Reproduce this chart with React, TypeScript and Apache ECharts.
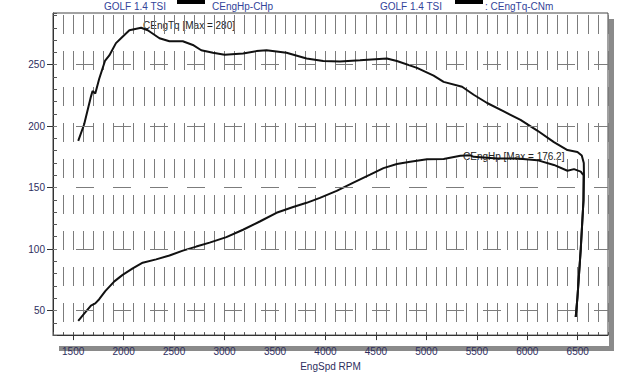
import React, { useEffect, useRef } from 'react';
import * as echarts from 'echarts';

// Torque curve (EngSpd RPM, CEngTq Nm)
const tqRpm = [1550, 1609, 1676, 1692, 1719, 1758, 1815, 1858, 1924, 1974, 2057, 2173, 2239, 2355, 2454, 2586, 2686, 2769, 2885, 3001, 3183, 3316, 3416, 3614, 3813, 3978, 4144, 4343, 4608, 4708, 4907, 5072, 5171, 5354, 5469, 5602, 5767, 5933, 6099, 6264, 6398, 6497, 6540, 6560, 6562, 6557, 6530, 6497, 6480];
const tqVal = [188, 201.5, 224, 228.5, 226.5, 238.5, 253, 257.5, 267.5, 271.5, 278, 280, 278, 271.5, 269, 269, 266, 261.7, 259.7, 258, 259, 261, 261.7, 259.7, 255, 253, 252.5, 253.5, 255, 253, 247.4, 241, 236, 232, 225.5, 218.8, 212, 205, 196.4, 187, 180.5, 179, 176, 170, 160, 139.5, 100, 60.5, 44.7];

// Power curve (EngSpd RPM, CEngHp hp)
const hpRpm = [1550, 1609, 1676, 1719, 1758, 1818, 1908, 1990, 2090, 2189, 2322, 2454, 2587, 2720, 2852, 3018, 3183, 3349, 3515, 3680, 3813, 3945, 4111, 4277, 4442, 4575, 4708, 4840, 5006, 5171, 5337, 5436, 5469, 5702, 5900, 6099, 6264, 6398, 6463, 6530, 6558, 6557, 6530, 6497, 6480];
const hpVal = [41.6, 47.4, 54, 55.8, 59.2, 65.8, 73.7, 79, 84.2, 88.9, 91.6, 94.7, 98.7, 102, 105.2, 109.7, 115.7, 122.4, 129.5, 134.2, 137.6, 141.6, 147.3, 154, 160.5, 165.8, 169.2, 171, 173, 173.2, 175.8, 176.2, 175, 173.7, 173.7, 172.3, 168.4, 163.7, 165, 163, 160, 139.5, 100, 60.5, 44.7];

const xLabelValues = [1500, 2000, 2500, 3000, 3500, 4000, 4500, 5000, 5500, 6000, 6500];
const yLabelValues = [50, 100, 150, 200, 250];
const headerTexts = ['GOLF 1.4 TSI', 'CEngHp-CHp', 'GOLF 1.4 TSI', ': CEngTq-CNm'];
const tqNote = 'CEngTq [Max = 280]';
const hpNote = 'CEngHp [Max = 176.2]';

export default function App() {
  const ref = useRef<HTMLDivElement>(null);
  useEffect(() => {
    if (!ref.current) return;
    const chart = echarts.init(ref.current, null, { renderer: 'svg' });
    const font = '"Liberation Sans", Arial, sans-serif';
    const gridColor = '#7c7c7c';
    const labelColor = '#2e2e5e';
    const titleColor = '#33449a';
    const tqData = tqRpm.map((r, i) => [r, tqVal[i]]);
    const hpData = hpRpm.map((r, i) => [r, hpVal[i]]);

    chart.setOption({
      animation: false,
      backgroundColor: '#ffffff',
      grid: {
        left: 53, top: 13, right: 32, bottom: 31,
        show: true, borderColor: '#444', borderWidth: 1, backgroundColor: 'transparent'
      },
      xAxis: [
        {
          type: 'value', min: 1300, max: 6800, interval: 100, position: 'bottom',
          axisLine: { show: true, lineStyle: { color: '#333', width: 1 } },
          axisTick: { show: true, inside: true, length: 3, lineStyle: { color: '#555' } },
          axisLabel: {
            show: true, margin: 11, color: labelColor, fontSize: 10, fontFamily: font,
            formatter: (v: number) => (xLabelValues.indexOf(v) >= 0 ? String(v) : '')
          },
          splitLine: { show: true, lineStyle: { color: gridColor, width: 1, type: [19, 17], dashOffset: 34 } },
          name: 'EngSpd RPM', nameLocation: 'middle', nameGap: 23,
          nameTextStyle: { color: labelColor, fontSize: 10, fontFamily: font }
        },
        {
          type: 'value', min: 1300, max: 6800, position: 'bottom',
          axisLine: { show: false },
          axisTick: { show: true, inside: false, length: 5, customValues: xLabelValues, lineStyle: { color: '#333' } },
          axisLabel: { show: false },
          splitLine: { show: false }
        }
      ],
      yAxis: [
        {
          type: 'value', min: 30, max: 292, interval: 10, position: 'left',
          axisLine: { show: true, lineStyle: { color: '#333', width: 1 } },
          axisTick: { show: true, inside: true, length: 4, lineStyle: { color: '#555' } },
          axisLabel: {
            show: true, margin: 8, color: labelColor, fontSize: 10, fontFamily: font,
            formatter: (v: number) => (yLabelValues.indexOf(v) >= 0 ? String(v) : '')
          },
          splitLine: { show: false }
        },
        {
          type: 'value', min: 30, max: 292, position: 'left', offset: 0,
          axisLine: { show: false },
          axisTick: { show: true, inside: false, length: 6, customValues: yLabelValues, lineStyle: { color: '#333' } },
          axisLabel: { show: false },
          splitLine: { show: false }
        }
      ],
      graphic: [
        { type: 'rect', shape: { x: 609, y: 19, width: 5, height: 332 }, style: { fill: '#8a8a8a' }, z: -1 },
        { type: 'rect', shape: { x: 59, y: 346, width: 555, height: 5 }, style: { fill: '#8a8a8a' }, z: -1 },
        { type: 'rect', shape: { x: 177, y: 0, width: 28, height: 4 }, style: { fill: '#000' } },
        { type: 'rect', shape: { x: 455, y: 0, width: 28, height: 4 }, style: { fill: '#000' } },
        { type: 'text', x: 104, y: 6, style: { text: headerTexts[0], fill: titleColor, font: `10px ${font}`, textVerticalAlign: 'middle' } },
        { type: 'text', x: 212, y: 6, style: { text: headerTexts[1], fill: titleColor, font: `10px ${font}`, textVerticalAlign: 'middle' } },
        { type: 'text', x: 380, y: 6, style: { text: headerTexts[2], fill: titleColor, font: `10px ${font}`, textVerticalAlign: 'middle' } },
        { type: 'text', x: 485, y: 6, style: { text: headerTexts[3], fill: titleColor, font: `10px ${font}`, textVerticalAlign: 'middle' } },
        { type: 'text', x: 143, y: 25, style: { text: tqNote, fill: '#222', font: `10px ${font}`, textVerticalAlign: 'middle' } },
        { type: 'text', x: 463, y: 156, style: { text: hpNote, fill: '#222', font: `10px ${font}`, textVerticalAlign: 'middle' } }
      ],
      series: [
        {
          name: 'CEngTq', type: 'line', xAxisIndex: 0, yAxisIndex: 0, data: tqData,
          showSymbol: false, symbol: 'none', smooth: false,
          lineStyle: { color: '#111', width: 2 },
          markLine: {
            silent: true, symbol: ['none', 'none'], label: { show: false },
            lineStyle: { color: gridColor, width: 1, type: [18, 19], dashOffset: 14 },
            data: yLabelValues.map(v => ({ yAxis: v }))
          }
        },
        {
          name: 'CEngHp', type: 'line', xAxisIndex: 0, yAxisIndex: 0, data: hpData,
          showSymbol: false, symbol: 'none', smooth: false,
          lineStyle: { color: '#111', width: 2 }
        }
      ]
    });
    return () => chart.dispose();
  }, []);
  return <div ref={ref} style={{ position: 'fixed', left: 0, top: 0, width: 640, height: 376 }} />;
}
